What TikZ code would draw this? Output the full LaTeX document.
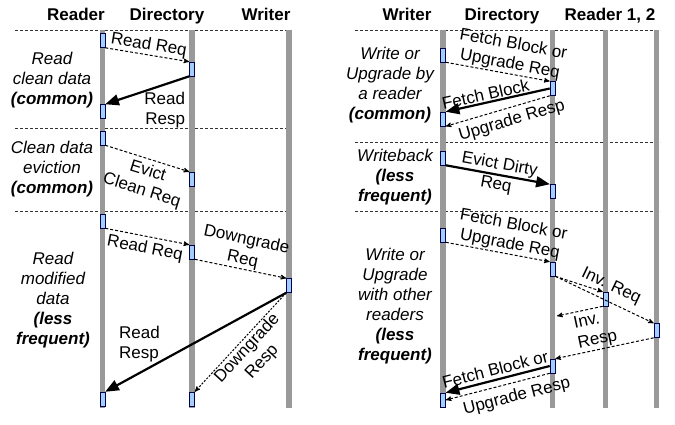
\documentclass[tikz,border=0pt]{standalone}
\usepackage{fontspec}
\setmainfont{Liberation Sans}
\setsansfont{Liberation Sans}
\usetikzlibrary{arrows}
\tikzset{every picture/.style={/utils/exec={\sffamily\fontsize{17}{20}\selectfont}}}
\definecolor{lifegray}{RGB}{153,153,153}
\definecolor{actblue}{RGB}{164,206,250}
\tikzset{lifeline/.style={line width=5.5pt, lifegray}}
\tikzset{actbox/.style={draw=blue!30!black, fill=actblue, line width=0.6pt, minimum width=5pt, minimum height=14pt, inner sep=0pt}}
\tikzset{req/.style={-stealth', densely dashed, line width=1pt}}
\tikzset{resp/.style={-triangle 45, line width=2.2pt}}
\tikzset{phase/.style={dash pattern=on 3pt off 2pt, line width=0.6pt, black!80}}
\tikzset{msg/.style={align=center, inner sep=1pt}}
\tikzset{case/.style={align=center, font=\itshape}}

\begin{document}
\begin{tikzpicture}[x=1pt, y=-1pt]
    \useasboundingbox (0, 0) rectangle (675, 424);
    \node [font=\bfseries, anchor=base] (hRead) at (76, 20) {Reader};
    \node [font=\bfseries, anchor=base] (hDir) at (167, 20) {Directory};
    \node [font=\bfseries, anchor=base] (hWrite) at (266, 20) {Writer};
    \node [font=\bfseries, anchor=base] (hWrite2) at (407, 20) {Writer};
    \node [font=\bfseries, anchor=base] (hDir2) at (502, 20) {Directory};
    \node [font=\bfseries, anchor=base] (hRead2) at (610, 20) {Reader 1, 2};
    \draw [phase] (15, 30) -- (292, 30);
    \draw [phase] (15, 128) -- (292, 128);
    \draw [phase] (15, 211) -- (292, 211);
    \draw [phase] (355, 30) -- (660, 30);
    \draw [phase] (355, 142) -- (660, 142);
    \draw [phase] (355, 211) -- (660, 211);
    \draw [lifeline] (102.5, 30) -- (102.5, 408);
    \draw [lifeline] (192, 30) -- (192, 408);
    \draw [lifeline] (289, 30) -- (289, 408);
    \draw [lifeline] (443, 30) -- (443, 408);
    \draw [lifeline] (552.5, 30) -- (552.5, 408);
    \draw [lifeline] (605.5, 30) -- (605.5, 408);
    \draw [lifeline] (656.5, 30) -- (656.5, 408);
    \node [case] (c1) at (52, 80) {Read\\clean data\\\textbf{(common)}};
    \node [case] (c2) at (52, 169) {Clean data\\eviction\\\textbf{(common)}};
    \node [case] (c3) at (53, 300) {Read\\modified\\data\\\textbf{(less}\\\textbf{frequent)}};
    \node [case] (c4) at (390, 85) {Write or\\Upgrade by\\a reader\\\textbf{(common)}};
    \node [case] (c5) at (395, 177) {Writeback\\\textbf{(less}\\\textbf{frequent)}};
    \node [case] (c6) at (395, 306) {Write or\\Upgrade\\with other\\readers\\\textbf{(less}\\\textbf{frequent)}};
    % left: activation boxes
    \node [actbox] (L1) at (102.5, 40.5) {};
    \node [actbox] (L2) at (192, 69) {};
    \node [actbox] (L3) at (102.5, 111.5) {};
    \node [actbox] (L4) at (102.5, 138) {};
    \node [actbox] (L5) at (192, 179) {};
    \node [actbox] (L6) at (102.5, 221) {};
    \node [actbox] (L7) at (192, 252) {};
    \node [actbox] (L8) at (289, 285.5) {};
    \node [actbox] (L9) at (102.5, 399) {};
    \node [actbox] (L10) at (192, 399) {};
    % right: activation boxes
    \node [actbox] (R1) at (443, 55) {};
    \node [actbox] (R2) at (552.5, 88.5) {};
    \node [actbox] (R3) at (443, 119) {};
    \node [actbox] (R4) at (443, 158) {};
    \node [actbox] (R5) at (552.5, 191.5) {};
    \node [actbox] (R6) at (443, 235) {};
    \node [actbox] (R7) at (552.5, 269) {};
    \node [actbox] (R8) at (605.5, 299) {};
    \node [actbox] (R9) at (656.5, 330.5) {};
    \node [actbox] (R10) at (552.5, 366) {};
    \node [actbox] (R11) at (443, 400) {};
    \coordinate (invEnd) at (557, 316);
    % left: messages
    \draw [req] (L1.south east) -- node [msg, sloped, above] {Read Req} (L2.north west);
    \draw [resp] (L2.south west) -- node [msg, pos=0, anchor=north east, xshift=-2pt, yshift=-14pt, align=right] {Read\\Resp} (L3.north east);
    \draw [req] (L4.south east) -- node [msg, sloped, below=3pt, pos=0.55] {Evict\\Clean Req} (L5.north west);
    \draw [req] (L6.south east) -- node [msg, sloped, below=3pt] {Read Req} (L7.north west);
    \draw [req] (L7.south east) -- node [msg, sloped, above] {Downgrade\\Req} (L8.north west);
    \draw [resp] (L8.south west) -- node [msg, pos=0.72, anchor=south east, xshift=6pt, align=left] {Read\\Resp} (L9.north east);
    \draw [req, dash pattern=on 2pt off 1.5pt] (L8.south west) -- node [msg, sloped, below] {Downgrade\\Resp} (L10.north east);
    % right: messages
    \draw [req] (R1.south east) -- node [msg, sloped, above, pos=0.6] {Fetch Block or\\Upgrade Req} (R2.north west);
    \draw [resp] (R2.west) -- node [msg, sloped, above, pos=0.6] {Fetch Block} (R3.north east);
    \draw [req] (R2.south west) -- node [msg, sloped, below=4pt, pos=0.4] {Upgrade Resp} (R3.south east);
    \draw [resp] (R4.south east) -- node [msg, sloped] {Evict Dirty\\Req} (R5.north west);
    \draw [req] (R6.south east) -- node [msg, sloped, above, pos=0.6] {Fetch Block or\\Upgrade Req} (R7.north west);
    \draw [req] (R7.south east) -- (R8.north west);
    \draw [req] (R7.south east) -- node [msg, sloped, above=6pt, pos=0.5] {Inv. Req} (R9.north west);
    \draw [req] (R8.south west) -- (invEnd);
    \draw [req] (R9.south west) -- node [msg, sloped, above, pos=0.55, align=left] {Inv.\\Resp} (R10.north east);
    \draw [resp] (R10.west) -- node [msg, sloped, above=2pt, pos=0.5] {Fetch Block or} (R11.north east);
    \draw [req] (R10.south west) -- node [msg, sloped, below=5pt, pos=0.35] {Upgrade Resp} (R11.east);
\end{tikzpicture}
\end{document}
